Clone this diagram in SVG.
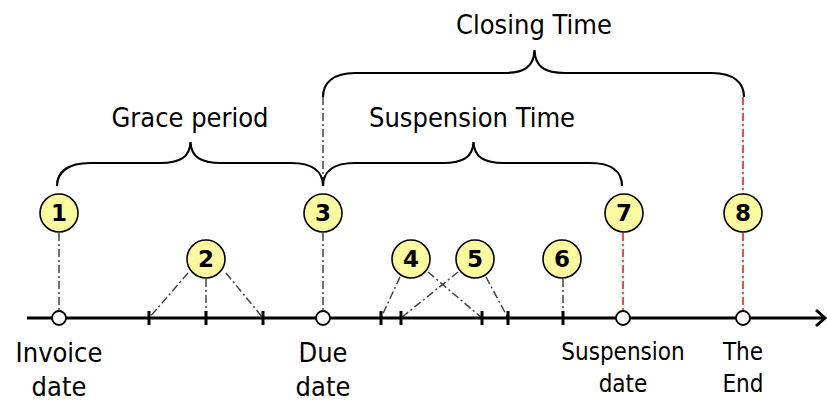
<svg xmlns="http://www.w3.org/2000/svg" width="827" height="402" viewBox="0 0 827 402">
<style>
.lbl{font-family:"DejaVu Sans Condensed","DejaVu Sans",sans-serif;fill:#000;text-anchor:middle}
.big{font-size:27px}
.sm{font-size:24px}
.num{font-family:"DejaVu Sans","Liberation Sans",sans-serif;font-weight:bold;font-size:23px;text-anchor:middle;fill:#000}
.badge{fill:#fcfaa0;stroke:#000;stroke-width:1.6}
.dd{stroke:#444;stroke-width:1.5;stroke-dasharray:8 3 2 3;fill:none}
.rd{stroke:#ee1111;stroke-width:1.5;stroke-dasharray:8 3 2 3;fill:none}
.brace{fill:none;stroke:#000;stroke-width:2.2}
.tick{stroke:#000;stroke-width:3}
.pt{fill:#fff;stroke:#000;stroke-width:1.8}
</style>
<g id="connectors">
  <line class="dd" x1="59" y1="233" x2="59" y2="311"/>
  <line class="dd" x1="188" y1="273" x2="149" y2="318"/>
  <line class="dd" x1="206" y1="279" x2="206" y2="318"/>
  <line class="dd" x1="226" y1="273" x2="263" y2="318"/>
  <line class="dd" x1="323" y1="97" x2="323" y2="180"/>
  <line class="dd" x1="323" y1="233" x2="323" y2="311"/>
  <line class="dd" x1="400" y1="277" x2="381" y2="318"/>
  <line class="dd" x1="428" y1="272" x2="482" y2="318"/>
  <line class="dd" x1="458" y1="272" x2="401" y2="318"/>
  <line class="dd" x1="486" y1="277" x2="508" y2="318"/>
  <line class="dd" x1="563" y1="279" x2="563" y2="318"/>
  <line class="rd" x1="623" y1="233" x2="623" y2="311"/>
  <line class="rd" x1="743" y1="97" x2="743" y2="194"/>
  <line class="rd" x1="743" y1="233" x2="743" y2="311"/>
</g>
<g id="axis">
  <line x1="27" y1="318" x2="824" y2="318" stroke="#000" stroke-width="3"/>
  <polyline points="816,310 825,318 816,326" fill="none" stroke="#000" stroke-width="3"/>
  <line class="tick" x1="149" y1="311" x2="149" y2="325"/>
  <line class="tick" x1="206" y1="311" x2="206" y2="325"/>
  <line class="tick" x1="263" y1="311" x2="263" y2="325"/>
  <line class="tick" x1="381" y1="311" x2="381" y2="325"/>
  <line class="tick" x1="401" y1="311" x2="401" y2="325"/>
  <line class="tick" x1="482" y1="311" x2="482" y2="325"/>
  <line class="tick" x1="508" y1="311" x2="508" y2="325"/>
  <line class="tick" x1="563" y1="311" x2="563" y2="325"/>
</g>
<g id="invoice-date">
  <circle class="pt" cx="59" cy="318" r="7"/>
  <text class="lbl big" x="59" y="362">Invoice</text>
  <text class="lbl big" x="59" y="396">date</text>
</g>
<g id="due-date">
  <circle class="pt" cx="323" cy="318" r="7"/>
  <text class="lbl big" x="323" y="362">Due</text>
  <text class="lbl big" x="323" y="396">date</text>
</g>
<g id="suspension-date">
  <circle class="pt" cx="623" cy="318" r="7"/>
  <text class="lbl sm" x="623" y="360">Suspension</text>
  <text class="lbl sm" x="623" y="392">date</text>
</g>
<g id="the-end">
  <circle class="pt" cx="743" cy="318" r="7"/>
  <text class="lbl sm" x="743" y="360">The</text>
  <text class="lbl sm" x="743" y="392">End</text>
</g>
<g id="grace-period">
  <path class="brace" d="M57,186 C57,172 68,163 90,163 L160,163 C180,163 190,157 190.5,142 C191,157 201,163 221,163 L291,163 C313,163 323,172 323,186"/>
  <text class="lbl big" x="190" y="127">Grace period</text>
</g>
<g id="suspension-time">
  <path class="brace" d="M323,186 C323,172 333,163 355,163 L443,163 C463,163 473,157 473.5,142 C474,157 484,163 504,163 L590,163 C612,163 622,172 622,186"/>
  <text class="lbl big" x="472" y="127">Suspension Time</text>
</g>
<g id="closing-time">
  <path class="brace" d="M323,97 C323,83 333,73 355,73 L504,73 C524,73 534,67 534.5,50 C535,67 545,73 565,73 L712,73 C734,73 744,83 744,97"/>
  <text class="lbl big" x="534" y="34">Closing Time</text>
</g>
<g id="n1"><circle class="badge" cx="59" cy="213" r="19"/><text class="num" x="59" y="221">1</text></g>
<g id="n2"><circle class="badge" cx="206" cy="259" r="19"/><text class="num" x="206" y="267">2</text></g>
<g id="n3"><circle class="badge" cx="323" cy="213" r="19"/><text class="num" x="323" y="221">3</text></g>
<g id="n4"><circle class="badge" cx="411" cy="259" r="19"/><text class="num" x="411" y="267">4</text></g>
<g id="n5"><circle class="badge" cx="475" cy="259" r="19"/><text class="num" x="475" y="267">5</text></g>
<g id="n6"><circle class="badge" cx="562" cy="259" r="19"/><text class="num" x="562" y="267">6</text></g>
<g id="n7"><circle class="badge" cx="624" cy="213" r="19"/><text class="num" x="624" y="221">7</text></g>
<g id="n8"><circle class="badge" cx="743" cy="213" r="19"/><text class="num" x="743" y="221">8</text></g>
</svg>
